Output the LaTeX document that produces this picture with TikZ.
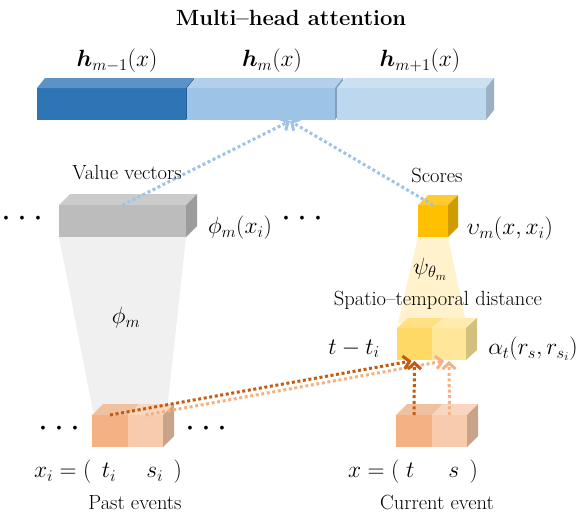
\documentclass[tikz,border=0pt]{standalone}
\usepackage{fix-cm}
\usepackage{amsmath,amssymb}
\usetikzlibrary{arrows.meta,calc}
\definecolor{hAfront}{HTML}{2E75B6}\definecolor{hAtop}{HTML}{5B93C7}\definecolor{hAside}{HTML}{2A5E92}
\definecolor{hBfront}{HTML}{9DC3E6}\definecolor{hBtop}{HTML}{B3D0EB}\definecolor{hBside}{HTML}{809FBC}
\definecolor{hCfront}{HTML}{BDD7EE}\definecolor{hCtop}{HTML}{CCE0F2}\definecolor{hCside}{HTML}{9BB0C3}
\definecolor{grfront}{HTML}{BCBCBC}\definecolor{grtop}{HTML}{CBCBCB}\definecolor{grside}{HTML}{9C9C9C}
\definecolor{grfan}{HTML}{F0F0F0}\definecolor{yfan}{HTML}{FFF2CC}
\definecolor{scfront}{HTML}{FFC000}\definecolor{sctop}{HTML}{FFCB2E}\definecolor{scside}{HTML}{CF9C00}
\definecolor{dAfront}{HTML}{FFD966}\definecolor{dAtop}{HTML}{FFE183}\definecolor{dBfront}{HTML}{FFE699}
\definecolor{dBtop}{HTML}{FFEBAD}\definecolor{dside}{HTML}{D3C07E}
\definecolor{eAfront}{HTML}{F4B183}\definecolor{eAtop}{HTML}{F1C09F}\definecolor{eBfront}{HTML}{F8CBAD}
\definecolor{eBtop}{HTML}{F9D6BF}\definecolor{eside}{HTML}{C9A48B}
\definecolor{bluedot}{HTML}{9DC3E6}\definecolor{darkor}{HTML}{C55A11}\definecolor{lightor}{HTML}{F4B183}
\tikzstyle{lbl}=[inner sep=0pt, font=\fontsize{20.5}{24}\selectfont]
\tikzstyle{mth}=[inner sep=0pt, font=\fontsize{23.5}{28}\selectfont]
\tikzstyle{face}=[inner sep=0pt, outer sep=0pt, minimum height=32pt]
\tikzstyle{darrow}=[-{Straight Barb[length=6pt,width=13pt]}, line width=3pt, dash pattern=on 3pt off 2.6pt]
\tikzset{dots/.style={inner sep=0pt, font=\fontsize{9.5}{9.5}\selectfont}}
\newcommand{\topface}[4]{\fill[#2] (#1.north west) -- ++(#3,-#4) -- ($(#1.north east)+(#3,-#4)$) -- (#1.north east) -- cycle;}
\newcommand{\sideface}[4]{\fill[#2] (#1.north east) -- ++(#3,-#4) -- ($(#1.south east)+(#3,-#4)$) -- (#1.south east) -- cycle;}
\newcommand{\threedots}{$\bullet\hspace{9pt}\bullet\hspace{9pt}\bullet$}
\begin{document}
\begin{tikzpicture}[x=1pt,y=-1pt]
  \useasboundingbox (0,0) rectangle (581,520);
  \node[lbl,font=\bfseries\fontsize{22}{26}\selectfont] (title) at (291,18) {Multi--head attention};
  % embedding bar
  \node[face,fill=hAfront,minimum width=149pt] (hA) at (111.5,104) {};
  \topface{hA}{hAtop}{8}{10} \sideface{hA}{hAside}{8}{10}
  \node[face,fill=hBfront,minimum width=148pt] (hB) at (261,104) {};
  \topface{hB}{hBtop}{8}{10} \sideface{hB}{hBside}{8}{10}
  \node[face,fill=hCfront,minimum width=149pt] (hC) at (411.5,104) {};
  \topface{hC}{hCtop}{8}{10} \sideface{hC}{hCside}{8}{10}
  \node[mth] (hAl) at (117,61) {$\boldsymbol{h}_{m-1}(x)$};
  \node[mth] (hBl) at (272,61) {$\boldsymbol{h}_{m}(x)$};
  \node[mth] (hCl) at (420,61) {$\boldsymbol{h}_{m+1}(x)$};
  % value vector and scores
  \node[face,fill=grfront,minimum width=127pt] (gv) at (122.5,221) {};
  \node[face,fill=scfront,minimum width=30pt] (sc) at (433,221) {};
  % events
  \node[face,fill=eAfront,minimum width=36pt] (pA) at (110,431) {};
  \node[face,fill=eBfront,minimum width=35pt,anchor=west] (pB) at (pA.east) {};
  \node[face,fill=eAfront,minimum width=36pt] (cA) at (414,431) {};
  \node[face,fill=eBfront,minimum width=35pt,anchor=west] (cB) at (cA.east) {};
  \node[face,fill=dAfront,minimum width=35pt] (dA) at (414.5,344) {};
  \node[face,fill=dBfront,minimum width=34pt,anchor=west] (dB) at (dA.east) {};
  % fans
  \fill[grfan] (gv.south west) -- (gv.south east) -- ($(pB.north east)+(4,-4)$) -- ($(pA.north west)+(1,-4)$) -- cycle;
  \fill[yfan] (sc.south west) -- (sc.south east) -- ($(dB.north east)+(0,-5)$) -- ($(dA.north west)+(1,-5)$) -- cycle;
  \topface{gv}{grtop}{11}{11} \sideface{gv}{grside}{11}{11}
  \topface{sc}{sctop}{10}{10} \sideface{sc}{scside}{10}{10}
  \topface{pA}{eAtop}{11}{11} \topface{pB}{eBtop}{11}{11} \sideface{pB}{eside}{11}{11}
  \topface{cA}{eAtop}{11}{11} \topface{cB}{eBtop}{11}{11} \sideface{cB}{eside}{11}{11}
  \topface{dA}{dAtop}{11}{10} \topface{dB}{dBtop}{11}{10} \sideface{dB}{dside}{11}{10}
  % connections
  \coordinate (att) at ($(hB.south)+(29,1)$);
  \draw[darrow,bluedot] (gv.north) -- (att);
  \draw[darrow,bluedot] (sc.north) -- (att);
  \draw[darrow,lightor] (pB.north) -- ($(dB.south)+(-5,1)$);
  \draw[darrow,darkor] (pA.north) -- ($(dA.south)+(-3,1)$);
  \draw[darrow,darkor] (cA.north) -- ($(dA.south)+(0,1)$);
  \draw[darrow,lightor] (cB.north) -- ($(dB.south)+(0,1)$);
  % labels
  \node[lbl] (vv) at (127,173) {Value vectors};
  \node[mth] (phix) at (240,228) {$\phi_m(x_i)$};
  \node[mth] (phi) at (126,318) {$\phi_m$};
  \node[lbl] (scl) at (437,175) {Scores};
  \node[mth] (ups) at (510,229) {$\upsilon_m(x,x_i)$};
  \node[mth] (psi) at (430,269) {$\psi_{\theta_m}$};
  \node[lbl] (std) at (438,300) {Spatio--temporal distance};
  \node[mth] (tti) at (354,349) {$t-t_i$};
  \node[mth] (alp) at (533,349) {$\alpha_t(r_s,r_{s_i})$};
  \node[mth] (xi) at (108,472) {$x_i=(\;\,t_i\quad\; s_i\;\,)$};
  \node[lbl] (pe) at (135,503) {Past events};
  \node[mth] (xc) at (413,472) {$x=(\;t\quad\;\, s\;\,)$};
  \node[lbl] (ce) at (437,502) {Current event};
  \node[dots] (dl) at (22,218) {\threedots};
  \node[dots] (dm) at (302,218) {\threedots};
  \node[dots] (pl) at (59,428) {\threedots};
  \node[dots] (pr) at (206,428) {\threedots};
\end{tikzpicture}
\end{document}
